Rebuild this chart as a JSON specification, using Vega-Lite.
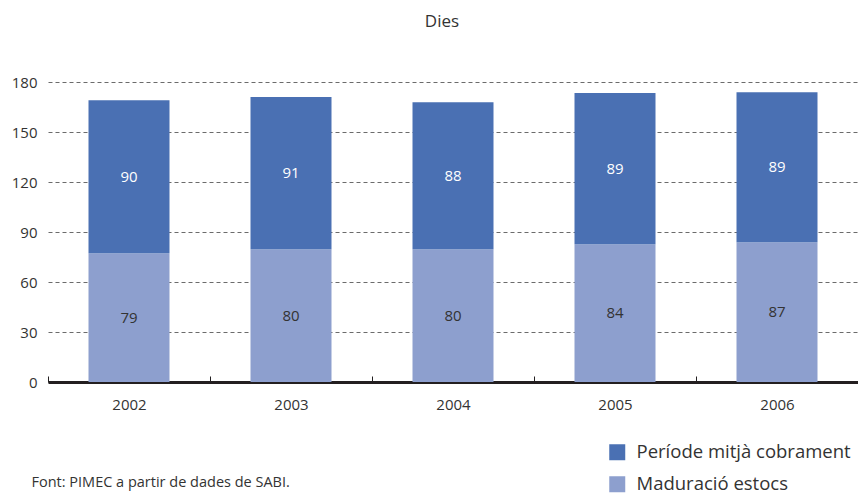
{
  "$schema": "https://vega.github.io/schema/vega-lite/v6.json",
  "autosize": "none",
  "width": 810,
  "height": 300,
  "padding": {"left": 48, "top": 82, "right": 0, "bottom": 112},
  "background": "white",
  "config": {
    "view": {"stroke": null},
    "font": "Open Sans"
  },
  "title": {
    "text": "Dies",
    "anchor": "middle",
    "dx": -11,
    "offset": 44,
    "fontSize": 17,
    "fontWeight": "normal",
    "color": "#333333",
    "font": "Open Sans"
  },
  "data": {
    "values": [
      {"any": "2002", "serie": "Maduració estocs", "ordre": 1, "dies": 77.2, "etiqueta": "79"},
      {"any": "2002", "serie": "Període mitjà cobrament", "ordre": 2, "dies": 91.8, "etiqueta": "90"},
      {"any": "2003", "serie": "Maduració estocs", "ordre": 1, "dies": 79.6, "etiqueta": "80"},
      {"any": "2003", "serie": "Període mitjà cobrament", "ordre": 2, "dies": 91.4, "etiqueta": "91"},
      {"any": "2004", "serie": "Maduració estocs", "ordre": 1, "dies": 79.6, "etiqueta": "80"},
      {"any": "2004", "serie": "Període mitjà cobrament", "ordre": 2, "dies": 88.2, "etiqueta": "88"},
      {"any": "2005", "serie": "Maduració estocs", "ordre": 1, "dies": 82.6, "etiqueta": "84"},
      {"any": "2005", "serie": "Període mitjà cobrament", "ordre": 2, "dies": 90.8, "etiqueta": "89"},
      {"any": "2006", "serie": "Maduració estocs", "ordre": 1, "dies": 83.8, "etiqueta": "87"},
      {"any": "2006", "serie": "Període mitjà cobrament", "ordre": 2, "dies": 90.0, "etiqueta": "89"}
    ]
  },
  "transform": [
    {"stack": "dies", "groupby": ["any"], "sort": [{"field": "ordre", "order": "ascending"}], "as": ["y0", "y1"]},
    {"calculate": "(datum.y0 + datum.y1) / 2", "as": "ymid"}
  ],
  "encoding": {
    "x": {
      "field": "any",
      "type": "nominal",
      "scale": {"paddingInner": 0.5, "paddingOuter": 0.25},
      "axis": {
        "labelAngle": 0,
        "labelFontSize": 15,
        "labelColor": "#333333",
        "labelPadding": 21,
        "labelOffset": 81,
        "tickOffset": -81,
        "tickSize": -6,
        "tickColor": "#231f20",
        "tickWidth": 1,
        "domainColor": "#231f20",
        "domainWidth": 3,
        "grid": false,
        "title": "Font: PIMEC a partir de dades de SABI.",
        "titleX": -17,
        "titleY": 100,
        "titleAlign": "left",
        "titleAnchor": "start",
        "titleBaseline": "middle",
        "titleFontSize": 14.5,
        "titleFontWeight": "normal",
        "titleColor": "#333333"
      }
    }
  },
  "layer": [
    {
      "mark": {"type": "bar"},
      "encoding": {
        "y": {
          "field": "y1",
          "type": "quantitative",
          "scale": {"domain": [0, 180]},
          "axis": {
            "values": [0, 30, 60, 90, 120, 150, 180],
            "title": null,
            "domain": false,
            "ticks": false,
            "labelFontSize": 15,
            "labelColor": "#333333",
            "labelPadding": 11,
            "gridColor": "#6b6b6b",
            "gridDash": [4, 3],
            "gridWidth": 1
          }
        },
        "y2": {"field": "y0"},
        "color": {
          "field": "serie",
          "type": "nominal",
          "scale": {
            "domain": ["Període mitjà cobrament", "Maduració estocs"],
            "range": ["#4a70b3", "#8d9fce"]
          },
          "legend": {
            "title": null,
            "orient": "none",
            "legendX": 560,
            "legendY": 361,
            "padding": 0,
            "symbolType": "square",
            "symbolSize": 256,
            "symbolStrokeWidth": 0,
            "labelFontSize": 18.5,
            "labelLimit": 0,
            "labelColor": "#333333",
            "labelOffset": 10,
            "rowPadding": 13
          }
        }
      }
    },
    {
      "mark": {"type": "text", "fontSize": 15, "baseline": "middle", "align": "center"},
      "encoding": {
        "y": {"field": "ymid", "type": "quantitative"},
        "text": {"field": "etiqueta"},
        "color": {
          "condition": {"test": "datum.serie === 'Període mitjà cobrament'", "value": "white"},
          "value": "#333333"
        }
      }
    }
  ]
}
